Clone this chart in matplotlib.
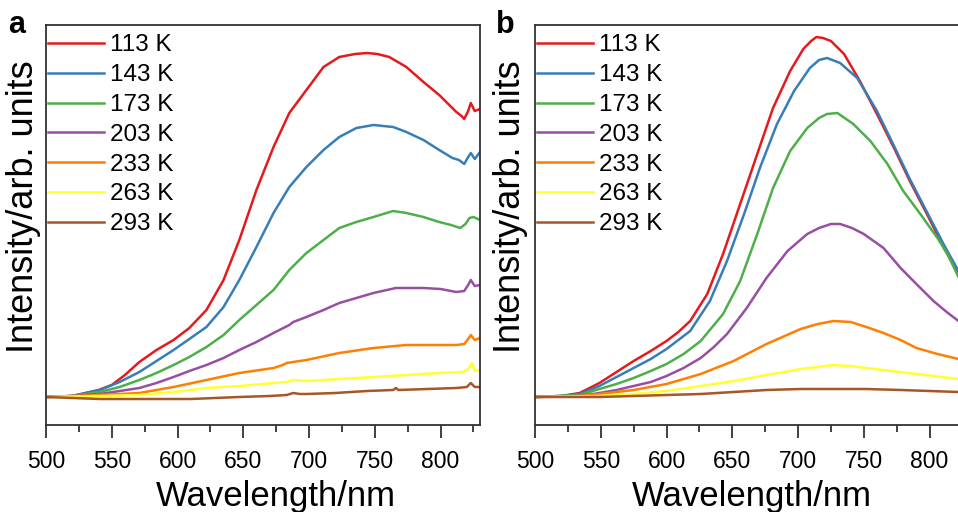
import matplotlib.pyplot as plt
from matplotlib.ticker import MultipleLocator

plt.rcParams['font.family'] = ['Liberation Sans', 'DejaVu Sans']

labels = ['113 K', '143 K', '173 K', '203 K', '233 K', '263 K', '293 K']
colors = ['#e41a1c', '#377eb8', '#4daf4a', '#984ea3', '#ff7f00', '#ffff33', '#a65628']

# panel a: (wavelength nm, intensity arb.)
a_113_x = [500, 520, 540, 550, 560, 571, 584, 597, 609, 622, 635, 647, 660, 673, 685, 698, 711, 723, 735, 744, 752, 761, 774, 787, 799, 812, 816, 818, 821, 823, 826, 830]
a_113_y = [0, 0.01, 0.07, 0.12, 0.22, 0.35, 0.47, 0.57, 0.69, 0.87, 1.17, 1.57, 2.07, 2.50, 2.84, 3.07, 3.30, 3.40, 3.43, 3.44, 3.43, 3.40, 3.30, 3.15, 3.02, 2.85, 2.81, 2.78, 2.86, 2.94, 2.86, 2.88]
a_143_x = [500, 520, 541, 556, 571, 584, 597, 609, 622, 635, 647, 660, 673, 685, 698, 711, 723, 736, 749, 764, 774, 787, 799, 809, 814, 818, 821, 823, 826, 830]
a_143_y = [0, 0.01, 0.07, 0.15, 0.25, 0.36, 0.47, 0.58, 0.70, 0.90, 1.17, 1.50, 1.84, 2.10, 2.30, 2.47, 2.60, 2.69, 2.72, 2.70, 2.65, 2.57, 2.47, 2.39, 2.37, 2.33, 2.40, 2.44, 2.38, 2.45]
a_173_x = [500, 520, 541, 556, 571, 584, 597, 609, 622, 635, 647, 660, 673, 685, 698, 711, 723, 736, 749, 764, 774, 787, 799, 808, 815, 819, 822, 825, 830]
a_173_y = [0, 0.01, 0.05, 0.10, 0.17, 0.24, 0.32, 0.40, 0.50, 0.62, 0.77, 0.92, 1.07, 1.27, 1.44, 1.57, 1.69, 1.75, 1.80, 1.86, 1.84, 1.80, 1.75, 1.72, 1.69, 1.73, 1.79, 1.80, 1.77]
a_203_x = [500, 520, 541, 556, 571, 584, 597, 609, 622, 635, 647, 660, 673, 685, 688, 698, 711, 723, 736, 749, 766, 787, 800, 812, 818, 821, 823, 826, 830]
a_203_y = [0, 0.01, 0.03, 0.06, 0.09, 0.14, 0.20, 0.26, 0.32, 0.39, 0.47, 0.55, 0.64, 0.72, 0.75, 0.80, 0.87, 0.94, 0.99, 1.04, 1.09, 1.09, 1.08, 1.05, 1.06, 1.12, 1.17, 1.11, 1.12]
a_233_x = [500, 541, 571, 597, 622, 647, 673, 680, 683, 698, 723, 749, 774, 800, 812, 818, 821, 823, 826, 830]
a_233_y = [0, 0.02, 0.04, 0.10, 0.17, 0.24, 0.29, 0.32, 0.34, 0.37, 0.44, 0.49, 0.52, 0.52, 0.52, 0.53, 0.58, 0.62, 0.57, 0.59]
a_263_x = [500, 541, 571, 597, 622, 647, 673, 683, 688, 698, 723, 749, 774, 799, 817, 821, 824, 826, 830]
a_263_y = [0, 0.01, 0.02, 0.05, 0.09, 0.11, 0.14, 0.15, 0.17, 0.16, 0.18, 0.20, 0.22, 0.24, 0.25, 0.28, 0.34, 0.26, 0.27]
a_293_x = [500, 541, 571, 610, 647, 670, 683, 688, 693, 698, 720, 744, 764, 766, 768, 790, 812, 820, 823, 826, 830]
a_293_y = [0, -0.02, -0.02, -0.02, 0.0, 0.01, 0.02, 0.04, 0.03, 0.03, 0.04, 0.06, 0.07, 0.09, 0.07, 0.08, 0.09, 0.10, 0.14, 0.10, 0.10]

# panel b
b_113_x = [500, 520, 534, 549, 562, 575, 588, 600, 609, 618, 631, 643, 656, 669, 681, 694, 704, 710, 714, 719, 725, 735, 747, 760, 773, 785, 798, 811, 822]
b_113_y = [0, 0.01, 0.04, 0.14, 0.25, 0.36, 0.46, 0.56, 0.65, 0.76, 1.03, 1.43, 1.93, 2.43, 2.89, 3.26, 3.48, 3.56, 3.60, 3.59, 3.56, 3.43, 3.16, 2.83, 2.49, 2.16, 1.83, 1.49, 1.23]
b_143_x = [500, 520, 534, 549, 562, 575, 588, 600, 618, 633, 646, 659, 671, 684, 697, 709, 716, 722, 732, 745, 760, 773, 785, 798, 811, 822]
b_143_y = [0, 0.01, 0.03, 0.11, 0.20, 0.29, 0.38, 0.48, 0.66, 0.96, 1.36, 1.83, 2.29, 2.73, 3.06, 3.29, 3.37, 3.39, 3.34, 3.19, 2.86, 2.51, 2.18, 1.85, 1.52, 1.26]
b_173_x = [500, 534, 549, 562, 575, 588, 600, 613, 626, 643, 656, 669, 681, 694, 707, 716, 722, 730, 742, 755, 768, 780, 793, 806, 814, 822]
b_173_y = [0, 0.02, 0.08, 0.13, 0.19, 0.26, 0.33, 0.43, 0.56, 0.83, 1.16, 1.63, 2.09, 2.46, 2.69, 2.79, 2.83, 2.84, 2.73, 2.56, 2.33, 2.06, 1.83, 1.59, 1.42, 1.20]
b_203_x = [500, 534, 549, 562, 575, 588, 600, 613, 626, 636, 646, 661, 676, 692, 707, 716, 725, 732, 741, 750, 765, 778, 790, 803, 813, 822]
b_203_y = [0, 0.01, 0.04, 0.07, 0.11, 0.15, 0.21, 0.29, 0.39, 0.50, 0.63, 0.89, 1.19, 1.46, 1.63, 1.69, 1.73, 1.73, 1.69, 1.63, 1.49, 1.29, 1.13, 0.96, 0.85, 0.76]
b_233_x = [500, 534, 549, 575, 600, 626, 651, 676, 702, 715, 727, 740, 752, 765, 778, 790, 806, 822]
b_233_y = [0, 0.01, 0.03, 0.07, 0.13, 0.23, 0.36, 0.53, 0.68, 0.73, 0.76, 0.75, 0.70, 0.64, 0.57, 0.49, 0.43, 0.38]
b_263_x = [500, 549, 575, 600, 626, 651, 676, 702, 715, 727, 740, 752, 771, 790, 822]
b_263_y = [0, 0.01, 0.03, 0.06, 0.11, 0.16, 0.22, 0.28, 0.30, 0.32, 0.31, 0.29, 0.26, 0.23, 0.18]
b_293_x = [500, 549, 575, 600, 626, 651, 676, 702, 727, 752, 778, 800, 822]
b_293_y = [0, 0.0, 0.01, 0.02, 0.03, 0.05, 0.07, 0.08, 0.08, 0.08, 0.07, 0.06, 0.05]

panel_a = [(a_113_x, a_113_y), (a_143_x, a_143_y), (a_173_x, a_173_y), (a_203_x, a_203_y),
           (a_233_x, a_233_y), (a_263_x, a_263_y), (a_293_x, a_293_y)]
panel_b = [(b_113_x, b_113_y), (b_143_x, b_143_y), (b_173_x, b_173_y), (b_203_x, b_203_y),
           (b_233_x, b_233_y), (b_263_x, b_263_y), (b_293_x, b_293_y)]

fig = plt.figure(figsize=(9.58, 5.12), dpi=100)
ax_a = fig.add_axes([46 / 958, 87 / 512, 434 / 958, 400 / 512])
ax_b = fig.add_axes([535 / 958, 87 / 512, 434 / 958, 400 / 512])

for ax, series, tag, tx, ylx, xlx in [(ax_a, panel_a, 'a', 8 / 958, -0.012, 0.53),
                                      (ax_b, panel_b, 'b', 496 / 958, -0.016, 0.5)]:
    for (x, y), c, lab in zip(series, colors, labels):
        ax.plot(x, y, color=c, lw=1.8, label=lab)
    ax.set_xlim(500, 830)
    ax.set_ylim(-0.28, 3.72)
    ax.xaxis.set_major_locator(MultipleLocator(50))
    ax.xaxis.set_minor_locator(MultipleLocator(25))
    ax.set_xticks([500, 550, 600, 650, 700, 750, 800])
    ax.tick_params(axis='x', which='major', direction='out', length=9, width=1.3,
                   labelsize=16.5, pad=9, color='#333333')
    ax.tick_params(axis='x', which='minor', direction='out', length=5, width=1.3, color='#333333')
    ax.set_yticks([])
    for s in ax.spines.values():
        s.set_linewidth(1.3)
        s.set_color('#333333')
    ax.set_xlabel('Wavelength/nm', fontsize=25, labelpad=5)
    ax.xaxis.label.set_x(xlx)
    ax.set_ylabel('Intensity/arb. units', fontsize=26)
    ax.yaxis.set_label_coords(ylx, 0.545)
    ax.legend(loc='upper left', bbox_to_anchor=(0, 1 - 7 / 400), frameon=False,
              fontsize=17.5, handlelength=2.3, handletextpad=0.25, labelspacing=0.32,
              borderaxespad=0.0, borderpad=0.1)
    fig.text(tx, 0.936, tag, fontsize=22, fontweight='bold')

fig.savefig('out.png', dpi=100)
